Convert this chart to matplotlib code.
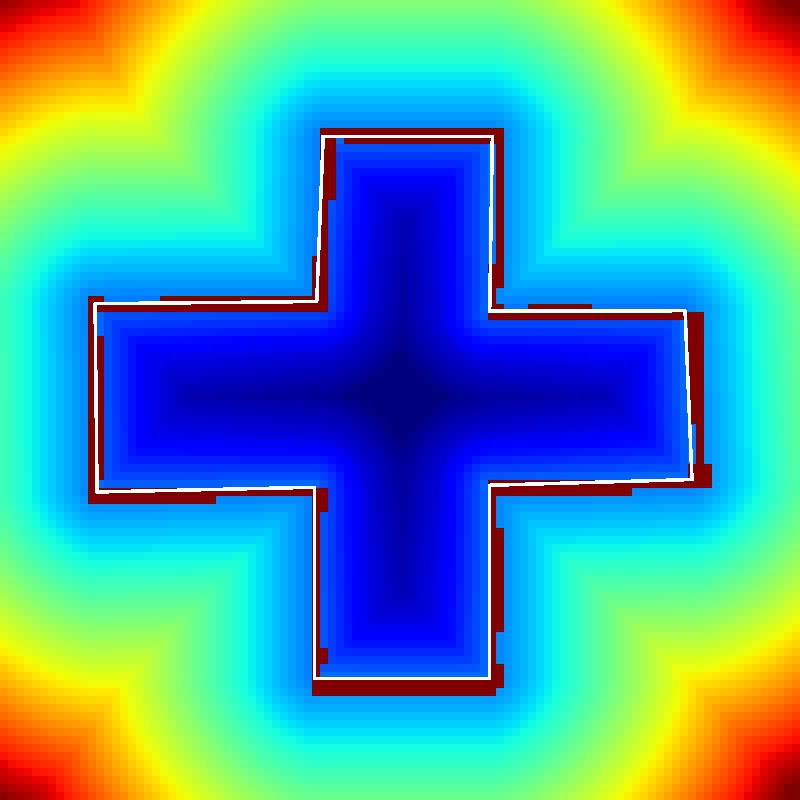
import numpy as np
import matplotlib
matplotlib.use('Agg')
import matplotlib.pyplot as plt
from matplotlib.path import Path
from matplotlib.colors import ListedColormap

# 网格大小（单元格）
N = 100

# 白色多边形顶点（单元格坐标，x 向右，y 向下）
poly_x = [40.4, 61.54, 61.21, 85.63, 86.5, 61.19, 61.16, 39.29, 39.29, 12.13, 11.88, 39.59]
poly_y = [17.09, 17.09, 38.9, 38.84, 59.94, 60.66, 84.79, 84.79, 60.91, 61.5, 37.96, 37.69]

# 颜色映射参数
edge_level = 0.24                       # 边界处的值
out_lin, out_quad = 0.0151, 0.0000687   # 外部: v = edge + a*d + b*d^2
p_norm = 1.6                            # 外部距离的范数
in_depth = [0, 1.5, 6.5, 11.7, 15.1]    # 内部深度（单元格）
in_level = [0.24, 0.205, 0.115, 0.07, 0.0]
radial_gain, radial_scale = 0.4, 45.0   # 内部越靠近中心越深

# 边界单元格（深红色）: (列起, 列止, 行起, 行止)，含端点
boundary_cells = [
    # 上臂
    (40, 62, 16, 16), (40, 41, 17, 17), (43, 62, 17, 17),
    (40, 41, 18, 24), (40, 40, 25, 38), (39, 39, 32, 38), (38, 38, 37, 38),
    (62, 62, 18, 35), (61, 61, 33, 39), (62, 62, 38, 38),
    # 右臂
    (61, 87, 39, 39), (66, 73, 38, 38), (86, 87, 39, 52), (87, 87, 53, 57),
    (86, 88, 58, 60), (61, 88, 60, 60), (61, 78, 61, 61),
    # 下臂
    (61, 61, 60, 86), (62, 63, 60, 61), (62, 62, 66, 78), (62, 62, 83, 85),
    (39, 61, 85, 86), (39, 39, 61, 86), (40, 40, 61, 63), (40, 40, 81, 82),
    (37, 38, 61, 61),
    # 左臂
    (11, 12, 37, 37), (20, 40, 37, 37), (11, 40, 38, 38),
    (11, 11, 37, 62), (12, 12, 42, 59), (11, 40, 61, 61),
    (11, 26, 62, 62), (39, 40, 62, 62),
]

px = np.array(poly_x + [poly_x[0]])
py = np.array(poly_y + [poly_y[0]])
cx, cy = np.meshgrid(np.arange(N) + 0.5, np.arange(N) + 0.5)
pts = np.column_stack([cx.ravel(), cy.ravel()])

# 欧氏距离（到线段）
d2 = np.full(len(pts), np.inf)
for k in range(len(px) - 1):
    vx, vy = px[k + 1] - px[k], py[k + 1] - py[k]
    t = ((pts[:, 0] - px[k]) * vx + (pts[:, 1] - py[k]) * vy) / (vx * vx + vy * vy)
    t = np.clip(t, 0, 1)
    d2 = np.minimum(d2, np.hypot(pts[:, 0] - (px[k] + t * vx), pts[:, 1] - (py[k] + t * vy)))

# Lp 距离（边界采样）
bx, by = [], []
for k in range(len(px) - 1):
    n = int(np.hypot(px[k + 1] - px[k], py[k + 1] - py[k]) / 0.1) + 1
    s = np.linspace(0, 1, n, endpoint=False)
    bx.append(px[k] + s * (px[k + 1] - px[k]))
    by.append(py[k] + s * (py[k + 1] - py[k]))
bx, by = np.concatenate(bx), np.concatenate(by)
dp = np.full(len(pts), np.inf)
for sx, sy in zip(bx, by):
    dp = np.minimum(dp, np.abs(pts[:, 0] - sx) ** p_norm + np.abs(pts[:, 1] - sy) ** p_norm)
dp = dp ** (1 / p_norm)

inside = Path(np.column_stack([px, py])).contains_points(pts)
center = np.array([np.mean([40.4, 61.54]), np.mean([37.96, 61.5])])
r = np.hypot(pts[:, 0] - center[0], pts[:, 1] - center[1])

v_out = edge_level + out_lin * dp + out_quad * dp ** 2
base_in = np.interp(d2, in_depth, in_level)
factor = 1 + radial_gain * np.clip(1 - r / radial_scale, 0, 1)
v_in = edge_level - (edge_level - base_in) * factor
val = np.clip(np.where(inside, v_in, v_out), 0, 1).reshape(N, N)

# 边界掩码
mask = np.zeros((N, N), dtype=bool)
for c0, c1, r0, r1 in boundary_cells:
    mask[r0:r1 + 1, c0:c1 + 1] = True

fig = plt.figure(figsize=(8, 8), dpi=100)
ax = fig.add_axes([0, 0, 1, 1])
ax.imshow(val, cmap='jet', vmin=0, vmax=1, extent=(0, N, N, 0), interpolation='nearest')
ax.imshow(np.ma.masked_where(~mask, mask.astype(float)), cmap=ListedColormap(['#800000']),
          extent=(0, N, N, 0), interpolation='nearest')
ax.plot(px, py, color='white', lw=1.8, antialiased=False)
ax.set_xlim(0, N)
ax.set_ylim(N, 0)
ax.axis('off')
plt.savefig('out.png', dpi=100)
